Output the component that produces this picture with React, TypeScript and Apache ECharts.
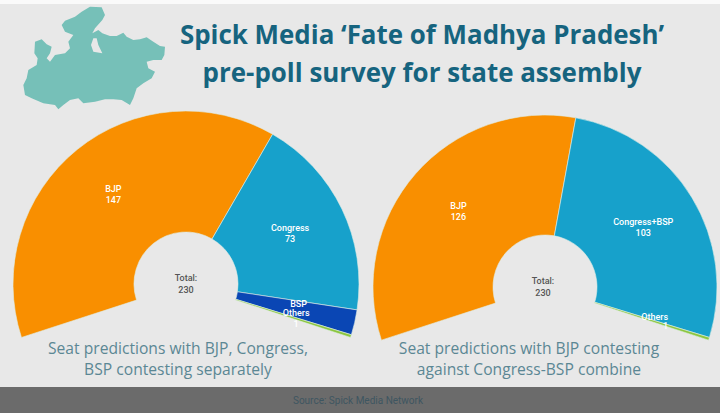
import React, { useEffect, useRef } from "react";
import * as echarts from "echarts";

const TITLE_LINES = ["Spick Media ‘Fate of Madhya Pradesh’", "pre-poll survey for state assembly"];
const LEFT_CAPTION = ["Seat predictions with BJP, Congress,", "BSP contesting separately"];
const RIGHT_CAPTION = ["Seat predictions with BJP contesting", "against Congress-BSP combine"];
const SOURCE = "Source: Spick Media Network";
const TOTAL = 230;

const leftNames = ["BJP", "Congress", "BSP", "Others"];
const leftValues = [147, 73, 9, 1];
const leftColors = ["#f98f00", "#17a1cb", "#0a46b4", "#8cc63f"];

const rightNames = ["BJP", "Congress+BSP", "Others"];
const rightValues = [126, 103, 1];
const rightColors = ["#f98f00", "#17a1cb", "#8cc63f"];

const MAP_OUTLINE = [
  [225,20],[260,22],[270,45],[262,60],[240,85],[232,100],[250,90],[262,100],[285,108],[305,108],[325,98],[335,110],
  [355,120],[375,118],[395,112],[415,125],[435,138],[450,140],[448,165],[440,180],[415,180],[395,185],[400,205],
  [420,215],[410,235],[385,250],[365,265],[355,295],[345,315],[320,300],[295,298],[270,298],[240,305],[205,310],
  [190,295],[165,300],[145,315],[130,328],[120,315],[85,310],[50,295],[30,285],[25,255],[35,235],[40,210],[65,195],
  [68,175],[58,160],[60,125],[80,118],[95,133],[110,140],[105,160],[95,175],[105,185],[120,165],[150,160],[165,145],
  [160,125],[175,105],[150,95],[140,75],[150,62],[180,50],[200,35],
];
const MAP_HOLE = [[235,115],[228,135],[235,155],[262,160],[250,135],[245,115]];
const toPage = (p: number[]) => [15 + p[0] / 3, p[1] / 3];

const BG = "#e8e8e8";
const TITLE_FONT = '"Open Sans", sans-serif';

function pieSeries(names: string[], values: number[], colors: string[], center: number[], radius: number[], labelFor: (n: string) => any, labelDy: (n: string) => number) {
  return {
    type: "pie",
    center,
    radius,
    startAngle: 198,
    endAngle: -18,
    clockwise: true,
    avoidLabelOverlap: false,
    silent: true,
    labelLine: { show: false },
    labelLayout: (p: any) => ({ hideOverlap: false, dy: labelDy(names[p.dataIndex]) }),
    itemStyle: { borderColor: "#dfeee6", borderWidth: 0.6 },
    label: {
      show: true,
      position: "inside",
      formatter: "{b}\n{c}",
      color: "#ffffff",
      fontFamily: "Roboto, sans-serif",
      fontSize: 9,
      fontWeight: 500,
      lineHeight: 11,
    },
    data: names.map((name, i) => ({
      name,
      value: values[i],
      itemStyle: { color: colors[i] },
      ...labelFor(name),
    })),
  };
}

function caption(lines: string[], x: number, y0: number) {
  return lines.map((text, i) => ({
    type: "text",
    x,
    y: y0 + i * 21,
    scaleX: 0.92,
    style: {
      text,
      fill: "#5b8794",
      font: `400 17px ${TITLE_FONT}`,
      textAlign: "center",
      textVerticalAlign: "middle",
    },
  }));
}

function total(x: number, y: number) {
  return {
    type: "text",
    x,
    y,
    style: {
      text: `Total:\n${TOTAL}`,
      fill: "#555555",
      font: "500 9px Roboto, sans-serif",
      lineHeight: 12,
      textAlign: "center",
      textVerticalAlign: "middle",
    },
  };
}

export default function App() {
  const ref = useRef<HTMLDivElement>(null);
  useEffect(() => {
    const chart = echarts.init(ref.current!, undefined, { renderer: "svg" });
    chart.setOption({
      animation: false,
      backgroundColor: BG,
      graphic: [
        { type: "rect", shape: { x: 0, y: 0, width: 720, height: 4 }, style: { fill: "#fafafa" } },
        { type: "rect", shape: { x: 0, y: 387, width: 720, height: 26 }, style: { fill: "#6b6b6b" } },
        { type: "polygon", shape: { points: MAP_OUTLINE.map(toPage) }, style: { fill: "#76c0b8" } },
        { type: "polygon", shape: { points: MAP_HOLE.map(toPage) }, style: { fill: BG } },
        ...TITLE_LINES.map((text, i) => ({
          type: "text",
          x: 422,
          y: 34 + i * 38,
          scaleX: 0.96,
          style: {
            text,
            fill: "#16647f",
            font: `700 27px ${TITLE_FONT}`,
            textAlign: "center",
            textVerticalAlign: "middle",
          },
        })),
        ...caption(LEFT_CAPTION, 178, 348),
        ...caption(RIGHT_CAPTION, 529, 348),
        total(186, 284),
        total(543, 287),
        {
          type: "text",
          x: 358,
          y: 400,
          style: {
            text: SOURCE,
            fill: "#3e5661",
            font: "400 10px Roboto, sans-serif",
            textAlign: "center",
            textVerticalAlign: "middle",
          },
        },
      ],
      series: [
        pieSeries(
          leftNames, leftValues, leftColors, [186, 284], [52, 173],
          (n) => (n === "BSP" ? { label: { formatter: "{b}", lineHeight: 8 } } : {}),
          (n) => (n === "BSP" ? -6 : 0)
        ),
        pieSeries(
          rightNames, rightValues, rightColors, [545, 287], [52, 172],
          (n) =>
            n === "Others"
              ? {
                  label: {
                    formatter: "{n|{b}}\n{v|{c}}",
                    rich: {
                      n: { color: "#fff", fontSize: 9, fontWeight: 500, lineHeight: 9 },
                      v: { color: "#fff", fontSize: 9, fontWeight: 500, lineHeight: 9, align: "right" },
                    },
                  },
                }
              : {},
          () => 0
        ),
      ],
    });
    return () => chart.dispose();
  }, []);
  return <div ref={ref} style={{ position: "fixed", left: 0, top: 0, width: 720, height: 413 }} />;
}
